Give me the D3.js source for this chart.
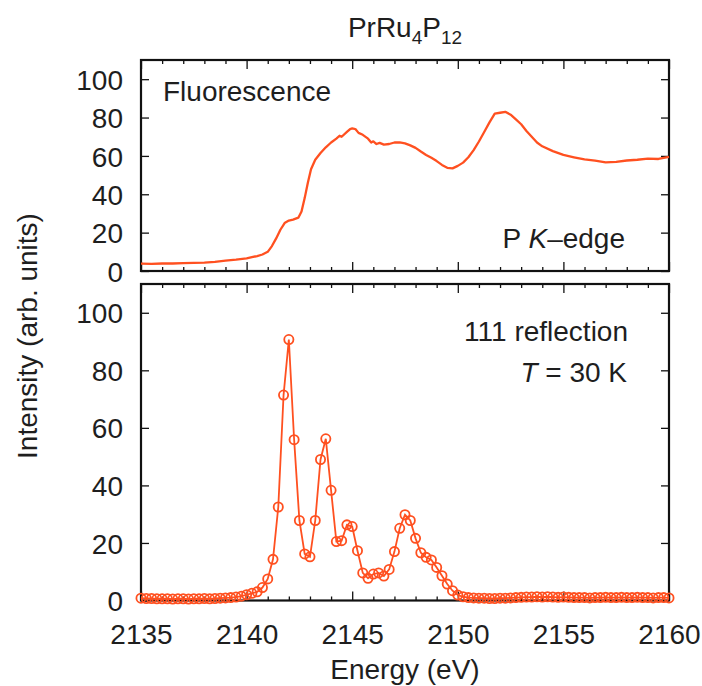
<!DOCTYPE html>
<html>
<head>
<meta charset="utf-8">
<script src="https://cdn.jsdelivr.net/npm/d3@7"></script>
<style>
  html, body { margin: 0; padding: 0; background: #fff; }
  svg text { font-family: "Liberation Sans", Arial, Helvetica, sans-serif; fill: #1e1e1e; }
</style>
</head>
<body>
<svg id="chart" width="702" height="686"></svg>
<script>
// P K-edge fluorescence spectrum (energy in eV, intensity in arb. units)
const fluoEnergy = [
  2135.0, 2135.5, 2136.0, 2136.5, 2137.0, 2137.5, 2138.0, 2138.5, 2139.0, 2139.5,
  2140.0, 2140.25, 2140.5, 2140.75, 2141.0, 2141.2, 2141.4, 2141.6, 2141.8, 2142.0,
  2142.2, 2142.45, 2142.6, 2142.75, 2142.9, 2143.05, 2143.25, 2143.5, 2143.75, 2144.0,
  2144.25, 2144.4, 2144.5, 2144.75, 2144.9, 2145.0, 2145.15, 2145.3, 2145.5, 2145.75,
  2145.9, 2146.0, 2146.15, 2146.3, 2146.5, 2146.75, 2147.0, 2147.25, 2147.5, 2147.75,
  2148.0, 2148.25, 2148.5, 2148.75, 2149.0, 2149.25, 2149.5, 2149.75, 2150.0, 2150.25,
  2150.5, 2150.75, 2151.0, 2151.25, 2151.5, 2151.75, 2152.0, 2152.25, 2152.5, 2152.75,
  2153.0, 2153.25, 2153.5, 2153.75, 2154.0, 2154.5, 2155.0, 2155.5, 2156.0, 2156.5,
  2157.0, 2157.5, 2158.0, 2158.5, 2159.0, 2159.5, 2160.0
];
const fluoIntensity = [
  3.8, 3.7, 3.9, 3.9, 4.1, 4.2, 4.4, 4.8, 5.4, 5.9,
  6.6, 7.2, 7.8, 8.6, 10.0, 13.0, 17.0, 21.5, 25.0, 26.3,
  26.8, 27.8, 31.0, 38.0, 46.0, 53.0, 58.0, 61.5, 64.5, 67.0,
  69.0, 70.5, 70.0, 72.5, 74.0, 74.3, 74.0, 72.0, 71.0, 69.0,
  67.0, 67.6, 66.2, 66.8, 65.9, 66.2, 67.0, 67.0, 66.5, 65.5,
  64.2, 62.3, 60.5, 59.0, 57.3, 55.3, 53.8, 53.5, 54.8, 56.5,
  59.3, 63.0, 67.5, 72.5, 77.5, 82.0, 82.5, 83.0, 81.5, 79.0,
  76.5, 73.0, 70.0, 67.0, 65.0, 62.5, 60.5, 59.3, 58.2, 57.5,
  56.6, 56.9, 57.6, 58.0, 58.6, 58.4, 59.5
];

// 111 reflection intensity at T = 30 K, measured every 0.25 eV from 2135 eV
const reflEnergy = [
  2135.0, 2135.25, 2135.5, 2135.75, 2136.0, 2136.25, 2136.5, 2136.75, 2137.0, 2137.25,
  2137.5, 2137.75, 2138.0, 2138.25, 2138.5, 2138.75, 2139.0, 2139.25, 2139.5, 2139.75,
  2140.0, 2140.25, 2140.5, 2140.75, 2141.0, 2141.25, 2141.5, 2141.75, 2142.0, 2142.25,
  2142.5, 2142.75, 2143.0, 2143.25, 2143.5, 2143.75, 2144.0, 2144.25, 2144.5, 2144.75,
  2145.0, 2145.25, 2145.5, 2145.75, 2146.0, 2146.25, 2146.5, 2146.75, 2147.0, 2147.25,
  2147.5, 2147.75, 2148.0, 2148.25, 2148.5, 2148.75, 2149.0, 2149.25, 2149.5, 2149.75,
  2150.0, 2150.25, 2150.5, 2150.75, 2151.0, 2151.25, 2151.5, 2151.75, 2152.0, 2152.25,
  2152.5, 2152.75, 2153.0, 2153.25, 2153.5, 2153.75, 2154.0, 2154.25, 2154.5, 2154.75,
  2155.0, 2155.25, 2155.5, 2155.75, 2156.0, 2156.25, 2156.5, 2156.75, 2157.0, 2157.25,
  2157.5, 2157.75, 2158.0, 2158.25, 2158.5, 2158.75, 2159.0, 2159.25, 2159.5, 2159.75,
  2160.0
];
const reflIntensity = [
  0.8, 0.7, 0.7, 0.6, 0.6, 0.6, 0.5, 0.6, 0.6, 0.5,
  0.6, 0.6, 0.7, 0.6, 0.7, 0.8, 0.9, 1.0, 1.2, 1.5,
  2.0, 2.5, 3.0, 4.5, 7.5, 14.3, 32.5, 71.4, 90.7, 55.9,
  27.8, 16.2, 15.2, 27.8, 49.0, 56.2, 38.3, 20.5, 20.8, 26.3,
  25.7, 17.3, 9.6, 7.7, 9.2, 9.6, 8.5, 10.8, 17.0, 25.1,
  29.8, 27.8, 21.6, 16.6, 15.0, 14.1, 11.5, 8.6, 5.7, 3.4,
  1.9, 1.3, 1.0, 0.9, 0.8, 0.8, 0.7, 0.7, 0.8, 0.8,
  0.9, 1.0, 1.1, 1.2, 1.2, 1.3, 1.2, 1.3, 1.2, 1.1,
  1.2, 1.1, 1.0, 1.0, 1.0, 0.9, 1.0, 1.0, 1.1, 1.0,
  1.0, 1.1, 1.0, 1.0, 1.1, 1.0, 1.0, 0.9, 1.0, 1.0,
  0.9
];

const xDomain = [2135, 2160];
const xMajorTicks = [2135, 2140, 2145, 2150, 2155, 2160];
const yDomain = [0, 110];
const yTicks = [0, 20, 40, 60, 80, 100];

const lineColor = "#ff5020";
const svg = d3.select("#chart");

const left = 141, right = 669;
const panels = {
  top: { y0: 60, y1: 271 },
  bottom: { y0: 284, y1: 600.5 }
};

const x = d3.scaleLinear().domain(xDomain).range([left, right]);
const xMinor = d3.range(xDomain[0], xDomain[1] + 0.001, 1).filter(v => !xMajorTicks.includes(v));

function drawFrame(p, y, showXLabels) {
  const g = svg.append("g");
  // inward ticks: minor every 1 eV, major every 5 eV, on both horizontal edges
  const axes = [
    { gen: d3.axisBottom(x), ty: p.y1 },
    { gen: d3.axisTop(x), ty: p.y0 }
  ];
  axes.forEach(a => {
    g.append("g").attr("transform", `translate(0,${a.ty})`)
      .call(a.gen.tickValues(xMinor).tickSize(-4).tickFormat(""))
      .call(s => s.select(".domain").remove());
    g.append("g").attr("transform", `translate(0,${a.ty})`)
      .call(a.gen.tickValues(xMajorTicks).tickSize(-9).tickFormat(""))
      .call(s => s.select(".domain").remove());
  });
  g.append("g").attr("transform", `translate(${left},0)`)
    .call(d3.axisLeft(y).tickValues(yTicks).tickSize(-8).tickPadding(18).tickFormat(d3.format("d")))
    .call(s => s.select(".domain").remove())
    .call(s => s.selectAll("text").attr("font-size", 28).attr("dy", "0.36em")
      .style("font-family", '"Liberation Sans", Arial, sans-serif').attr("fill", "#1e1e1e"));
  g.append("g").attr("transform", `translate(${right},0)`)
    .call(d3.axisRight(y).tickValues(yTicks).tickSize(-8).tickFormat(""))
    .call(s => s.select(".domain").remove());
  if (showXLabels) {
    g.append("g").attr("transform", `translate(0,${p.y1})`)
      .call(d3.axisBottom(x).tickValues(xMajorTicks).tickSize(0).tickPadding(24).tickFormat(d3.format("d")))
      .call(s => s.select(".domain").remove())
      .call(s => s.selectAll("text").attr("font-size", 28).attr("dy", "0.71em")
        .style("font-family", '"Liberation Sans", Arial, sans-serif').attr("fill", "#1e1e1e"));
  }
  g.selectAll(".tick line").attr("stroke", "#111").attr("stroke-width", 1.3);
  g.append("rect")
    .attr("x", left).attr("y", p.y0)
    .attr("width", right - left).attr("height", p.y1 - p.y0)
    .attr("fill", "none").attr("stroke", "#111").attr("stroke-width", 2.2);
}

// Upper panel: fluorescence
const yTop = d3.scaleLinear().domain(yDomain).range([panels.top.y1, panels.top.y0]);
drawFrame(panels.top, yTop, false);
const fluo = fluoEnergy.map((e, i) => [e, fluoIntensity[i]]);
svg.append("path")
  .datum(fluo)
  .attr("fill", "none")
  .attr("stroke", lineColor)
  .attr("stroke-width", 2.3)
  .attr("stroke-linejoin", "round")
  .attr("d", d3.line().x(d => x(d[0])).y(d => yTop(d[1])));

// Lower panel: 111 reflection
const yBot = d3.scaleLinear().domain(yDomain).range([panels.bottom.y1, panels.bottom.y0]);
drawFrame(panels.bottom, yBot, true);
const refl = reflEnergy.map((e, i) => [e, reflIntensity[i]]);
svg.append("path")
  .datum(refl)
  .attr("fill", "none")
  .attr("stroke", lineColor)
  .attr("stroke-width", 1.8)
  .attr("d", d3.line().x(d => x(d[0])).y(d => yBot(d[1])));
svg.append("g").selectAll("circle")
  .data(refl)
  .join("circle")
  .attr("cx", d => x(d[0]))
  .attr("cy", d => yBot(d[1]))
  .attr("r", 4.6)
  .attr("fill", "none")
  .attr("stroke", lineColor)
  .attr("stroke-width", 1.8);

// Title with chemical subscripts
const title = svg.append("text")
  .attr("x", (left + right) / 2).attr("y", 37)
  .attr("text-anchor", "middle").attr("font-size", 28);
title.append("tspan").text("PrRu");
title.append("tspan").attr("font-size", 19).attr("dy", 7).text("4");
title.append("tspan").attr("dy", -7).text("P");
title.append("tspan").attr("font-size", 19).attr("dy", 7).text("12");

// Panel annotations
svg.append("text").attr("x", 163).attr("y", 101).attr("font-size", 28).text("Fluorescence");
const kedge = svg.append("text").attr("x", 625).attr("y", 248)
  .attr("text-anchor", "end").attr("font-size", 28);
kedge.append("tspan").text("P ");
kedge.append("tspan").attr("font-style", "italic").text("K");
kedge.append("tspan").text("\u2013edge");

svg.append("text").attr("x", 628).attr("y", 341)
  .attr("text-anchor", "end").attr("font-size", 28).text("111 reflection");
const temp = svg.append("text").attr("x", 627).attr("y", 382)
  .attr("text-anchor", "end").attr("font-size", 28);
temp.append("tspan").attr("font-style", "italic").text("T");
temp.append("tspan").text(" = 30 K");

// Axis titles
svg.append("text")
  .attr("transform", "translate(37,336) rotate(-90)")
  .attr("text-anchor", "middle").attr("font-size", 28)
  .text("Intensity (arb. units)");
svg.append("text")
  .attr("x", (left + right) / 2).attr("y", 679)
  .attr("text-anchor", "middle").attr("font-size", 28)
  .text("Energy (eV)");
</script>
</body>
</html>
